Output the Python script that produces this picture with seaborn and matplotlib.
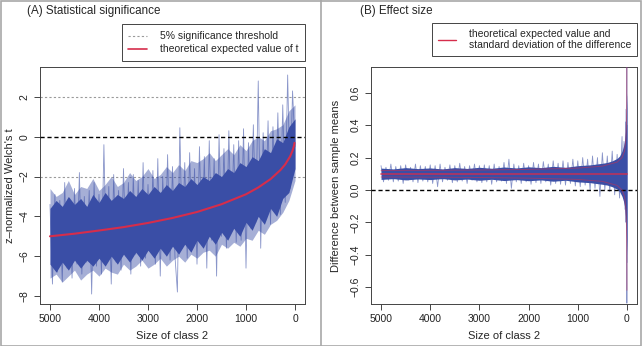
import numpy as np
import pandas as pd
import matplotlib
matplotlib.use('Agg')
import matplotlib.pyplot as plt
import matplotlib.patches as mpatches
from matplotlib.lines import Line2D
import seaborn as sns

# ---- Panel A: z-normalized Welch's t vs size of class 2 ----
size_a = np.arange(5000, -1, -50)
t_obs = [
    -3.4, -7.4, -2.9, -6.8, -3.2, -7.3, -2.3, -6.6, -3.1, -7.1,
    -2.6, -6.4, -1.8, -6.9, -3.0, -6.3, -2.7, -7.9, -2.3, -6.5,
    -2.9, -6.9, -0.4, -6.2, -2.5, -7.4, -1.9, -6.3, -2.7, -6.7,
    -1.6, -6.0, -2.3, -6.9, -1.9, -5.9, -2.2, -6.5, -1.3, -6.1,
    -2.4, -5.8, -1.7, -6.4, -1.1, -7.0, -2.0, -5.7, -0.9, -6.2,
    -1.5, -6.0, -7.8, 0.45, -5.6, -1.3, -6.1, -0.8, -5.4, -1.6,
    -6.4, -0.5, -5.3, -1.0, -6.6, -0.2, -5.2, -1.1, -7.0, 0.1,
    -5.0, -0.6, -5.6, 0.3, -4.8, -0.4, -5.3, -0.2, -5.2, 0.4,
    -6.6, -0.3, -4.6, 0.6, -4.3, 2.8, -5.6, 0.2, -4.0, 0.8,
    -4.4, 0.5, -3.6, 1.2, -3.9, 1.6, -3.3, 3.1, -2.6, 2.3,
    -0.5,
]
band_x_a = np.arange(5000, -1, -125)
core_hi_a = [-3.6, -3.2, -3.5, -3.0, -3.4, -3.1, -3.5, -2.9, -3.3, -2.8,
             -3.2, -2.9, -3.1, -2.7, -3.0, -2.6, -2.9, -2.5, -2.8, -2.4,
             -2.7, -2.3, -2.5, -2.1, -2.4, -2.0, -2.2, -1.8, -2.0, -1.6,
             -1.8, -1.3, -1.5, -1.0, -1.2, -0.6, -0.8, -0.1, -0.3, 0.5, 0.9]
core_lo_a = [-6.4, -6.8, -6.3, -6.7, -6.2, -6.6, -6.2, -6.5, -6.1, -6.5,
             -6.0, -6.4, -5.9, -6.3, -5.8, -6.2, -5.7, -6.1, -5.6, -6.0,
             -5.5, -5.9, -5.4, -5.8, -5.2, -5.6, -5.0, -5.4, -4.8, -5.2,
             -4.6, -5.0, -4.3, -4.7, -4.0, -4.4, -3.6, -4.0, -3.1, -2.8, -1.6]
outer_hi_a = [-2.6, -3.0, -2.8, -2.2, -2.9, -2.5, -2.6, -2.1, -2.7, -2.4,
              -2.0, -2.5, -2.3, -1.8, -2.2, -2.0, -1.6, -2.1, -1.9, -1.5,
              -1.8, -1.4, -1.7, -1.2, -1.3, -1.1, -0.8, -1.2, -0.9, -0.6,
              -0.9, -0.4, -0.7, -0.2, 0.0, -0.2, 0.3, 0.4, 0.6, 1.3, 1.6]
outer_lo_a = [-7.1, -6.9, -7.3, -7.0, -6.7, -7.2, -6.9, -6.7, -7.0, -6.6,
              -6.8, -6.9, -6.4, -6.7, -6.5, -6.2, -6.6, -6.4, -6.1, -6.5,
              -6.2, -6.0, -6.3, -5.9, -6.1, -5.8, -5.7, -6.0, -5.4, -5.6,
              -5.3, -5.5, -5.1, -5.2, -4.7, -4.9, -4.4, -4.2, -3.8, -3.2, -2.2]
theory_x_a = [5000, 4500, 4000, 3500, 3000, 2500, 2000, 1500, 1000, 750, 500,
              300, 200, 100, 50, 20, 10]
theory_t = [-5.0, -4.87, -4.71, -4.54, -4.33, -4.08, -3.78, -3.39, -2.89, -2.55,
            -2.13, -1.68, -1.39, -0.99, -0.70, -0.45, -0.31]

# ---- Panel B: difference between sample means ----
size_b = list(range(5000, 99, -50)) + [80, 60, 40, 30, 20, 15, 10, 7, 5, 3, 2, 1]
diff_obs = [
    0.15, 0.05, 0.14, 0.06, 0.16, 0.05, 0.145, 0.055, 0.15, 0.04,
    0.155, 0.06, 0.14, 0.05, 0.16, 0.045, 0.15, 0.055, 0.145, 0.05,
    0.155, 0.04, 0.15, 0.02, 0.16, 0.05, 0.14, 0.06, 0.155, 0.045,
    0.15, 0.05, 0.165, 0.055, 0.145, 0.04, 0.15, 0.06, 0.16, 0.05,
    0.15, 0.045, 0.155, 0.05, 0.15, 0.035, 0.16, 0.05, 0.145, 0.055,
    0.17, 0.04, 0.19, 0.01, 0.16, 0.05, 0.15, 0.04, 0.165, 0.05,
    0.15, 0.035, 0.17, 0.045, 0.16, 0.04, 0.175, 0.05, 0.16, 0.03,
    0.18, 0.04, 0.165, 0.035, 0.18, 0.03, 0.17, 0.04, 0.19, 0.025,
    0.18, 0.02, 0.2, 0.03, 0.19, 0.0, 0.21, 0.01, 0.2, -0.04,
    0.23, 0.0, 0.21, -0.01, 0.24, -0.03, 0.22, -0.05, 0.33,
    -0.02, 0.3, -0.12, 0.42, -0.2, 0.5, -0.3, 0.58, -0.45, 0.76, -0.7, 0.4,
]
band_x_b = [5000, 4750, 4500, 4250, 4000, 3750, 3500, 3250, 3000, 2750, 2500,
            2250, 2000, 1750, 1500, 1250, 1000, 750, 500, 400, 300, 200, 150,
            100, 70, 50, 30, 20, 10, 5, 0]
core_hi_b = [0.135, 0.13, 0.138, 0.132, 0.136, 0.13, 0.138, 0.133, 0.14, 0.134, 0.142,
             0.136, 0.143, 0.138, 0.146, 0.14, 0.15, 0.155, 0.165, 0.17, 0.18, 0.195, 0.21,
             0.24, 0.27, 0.3, 0.36, 0.42, 0.5, 0.55, 0.6]
core_lo_b = [0.065, 0.07, 0.062, 0.068, 0.064, 0.07, 0.062, 0.067, 0.06, 0.066, 0.058,
             0.064, 0.057, 0.062, 0.054, 0.06, 0.05, 0.045, 0.035, 0.03, 0.02, 0.005, -0.01,
             -0.04, -0.07, -0.1, -0.16, -0.22, -0.3, -0.35, -0.4]
theory_x_b = [5000, 4000, 3000, 2000, 1000, 500, 200, 100, 50, 20, 10, 5, 2, 1]
theory_mean = [0.1] * 14
theory_upper = [0.12, 0.121, 0.123, 0.127, 0.135, 0.147, 0.172, 0.2, 0.24, 0.32, 0.42, 0.55, 0.81, 1.1]
theory_lower = [0.08, 0.079, 0.077, 0.073, 0.065, 0.053, 0.028, 0.0, -0.04, -0.12, -0.22, -0.35, -0.5, -0.62]

BLUE = '#3a4ea6'
RED = '#d62d4b'
GREY = '#9a9a9a'
FRAME = '#444444'

sns.set_theme(style='ticks')
plt.rcParams['font.family'] = ['Liberation Sans', 'DejaVu Sans']

W, H = 642, 346
fig = plt.figure(figsize=(W / 100, H / 100), dpi=100)
ax_a = fig.add_axes([40 / W, 1 - 304 / H, 265 / W, 237 / H])
ax_b = fig.add_axes([371 / W, 1 - 304 / H, 266 / W, 237 / H])

# panel A
ax_a.fill_between(band_x_a, outer_lo_a, outer_hi_a, color=BLUE, alpha=0.45, lw=0, zorder=2)
ax_a.fill_between(band_x_a, core_lo_a, core_hi_a, color=BLUE, lw=0, zorder=2)
df_a = pd.DataFrame({'size': size_a, 't': t_obs})
sns.lineplot(data=df_a, x='size', y='t', ax=ax_a, estimator=None, sort=False,
             color=BLUE, lw=0.6, alpha=0.6, zorder=3)
for yv in (2, -2):
    ax_a.axhline(yv, color=GREY, lw=0.8, ls=(0, (2, 2)), zorder=1)
ax_a.axhline(0, color='black', lw=1, ls=(0, (3, 2)), zorder=4)
sns.lineplot(x=theory_x_a, y=theory_t, ax=ax_a, color=RED, lw=1.5, zorder=5)
ax_a.set_ylim(-8.4, 3.5)
ax_a.set_yticks([2, 0, -2, -4, -6, -8])
ax_a.set_ylabel("z\u2013normalized Welch's t", fontsize=8)
ax_a.yaxis.set_label_coords(-0.096, 0.5)

# panel B
ax_b.fill_between(band_x_b, core_lo_b, core_hi_b, color=BLUE, lw=0, zorder=2)
df_b = pd.DataFrame({'size': size_b, 'diff': diff_obs})
sns.lineplot(data=df_b, x='size', y='diff', ax=ax_b, estimator=None, sort=False,
             color=BLUE, lw=0.6, alpha=0.6, zorder=3)
ax_b.axhline(0, color='black', lw=1, ls=(0, (3, 2)), zorder=4)
sns.lineplot(x=theory_x_b, y=theory_upper, ax=ax_b, color=RED, lw=0.7, alpha=0.5, zorder=5)
sns.lineplot(x=theory_x_b, y=theory_lower, ax=ax_b, color=RED, lw=0.7, alpha=0.5, zorder=5)
sns.lineplot(x=theory_x_b, y=theory_mean, ax=ax_b, color=RED, lw=1.3, alpha=0.75, zorder=6)
ax_b.set_ylim(-0.705, 0.76)
ax_b.set_yticks([0.6, 0.4, 0.2, 0.0, -0.2, -0.4, -0.6])
ax_b.set_yticklabels(['0.6', '0.4', '0.2', '0.0', '\u22120.2', '\u22120.4', '\u22120.6'])
ax_b.set_ylabel('Difference between sample means', fontsize=8)
ax_b.yaxis.set_label_coords(-0.111, 0.5)

for ax in (ax_a, ax_b):
    ax.set_xlim(5204, -204)
    ax.set_xticks([5000, 4000, 3000, 2000, 1000, 0])
    ax.set_xlabel('Size of class 2', fontsize=8)
    ax.xaxis.set_label_coords(0.5, -0.114)
    ax.tick_params(direction='out', length=4.3, width=0.7, pad=3, labelsize=7.5,
                   color=FRAME, labelcolor='#222222')
    for lab in ax.get_yticklabels():
        lab.set_rotation(90)
        lab.set_va('center')
    for sp in ax.spines.values():
        sp.set_color(FRAME)
        sp.set_linewidth(0.7)
    ax.grid(False)

# legends
h_a = [Line2D([], [], color=GREY, lw=0.8, ls=(0, (2, 2))),
       Line2D([], [], color=RED, lw=1.2)]
ax_a.legend(h_a, ['5% significance threshold', 'theoretical expected value of t'],
            loc='lower right', bbox_to_anchor=(1.0, 1.025), borderaxespad=0, fontsize=7.5,
            frameon=True, fancybox=False, edgecolor=FRAME, framealpha=1,
            handlelength=1.8, borderpad=0.65, labelspacing=0.3, handletextpad=1.2)
ax_a.get_legend().get_frame().set_linewidth(0.7)
h_b = [Line2D([], [], color=RED, lw=1.0)]
ax_b.legend(h_b, ['theoretical expected value and\nstandard deviation of the difference'],
            loc='lower right', bbox_to_anchor=(1.0, 1.046), borderaxespad=0, fontsize=7.5,
            frameon=True, fancybox=False, edgecolor=FRAME, framealpha=1,
            handlelength=1.8, borderpad=0.55, handletextpad=1.2)
ax_b.get_legend().get_frame().set_linewidth(0.7)

# panel titles
fig.text(27 / W, 1 - 11 / H, '(A) Statistical significance', fontsize=8.4, va='center')
fig.text(360 / W, 1 - 11 / H, '(B) Effect size', fontsize=8.4, va='center')

# panel borders
fig.add_artist(mpatches.Rectangle((0.5 / W, 0.5 / H), (W - 1.5) / W, (H - 1.5) / H,
                                  transform=fig.transFigure, fill=False,
                                  edgecolor='#a8a8a8', lw=1.2))
fig.add_artist(Line2D([320.5 / W] * 2, [0, 1], transform=fig.transFigure,
                      color='#a8a8a8', lw=1.2))

fig.savefig('out.png', dpi=100)
